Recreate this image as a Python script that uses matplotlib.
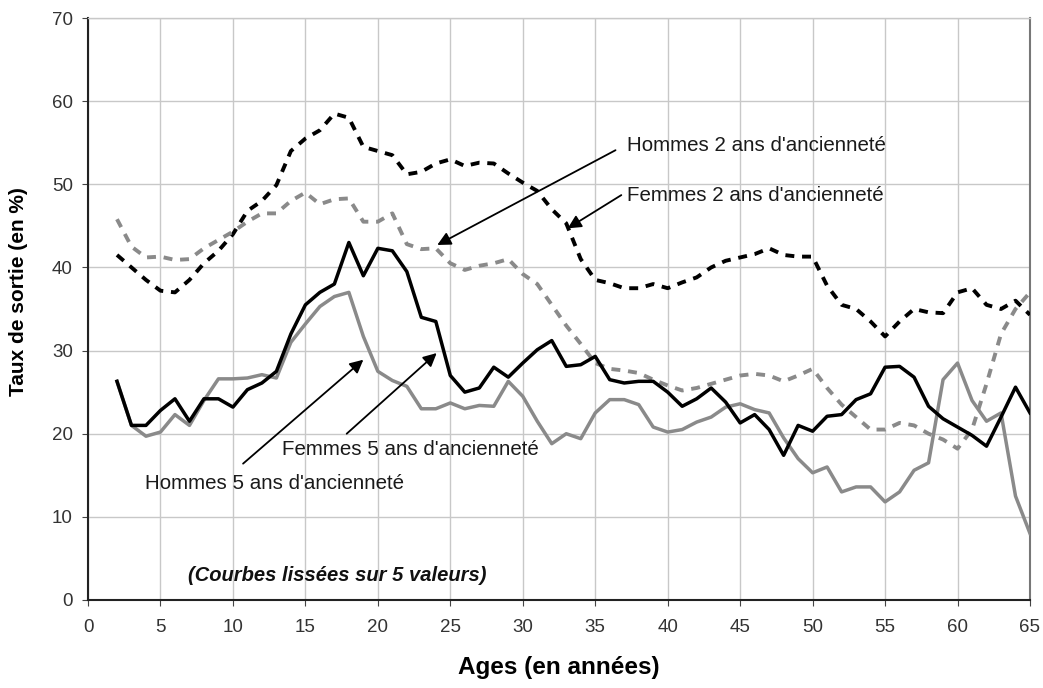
import matplotlib
matplotlib.use("Agg")
import matplotlib.pyplot as plt

ages = list(range(2, 66))

hommes_2ans = [41.5, 40, 38.5, 37.2, 37, 38.5, 40.5, 42, 44, 46.8,
               48, 49.9, 54, 55.5, 56.5, 58.5, 58, 54.5, 54, 53.5,
               51.2, 51.5, 52.5, 53, 52.2, 52.6, 52.5, 51.3, 50.2, 49.2,
               47, 45.3, 41, 38.5, 38.1, 37.5, 37.5, 38, 37.5, 38.2,
               38.8, 40, 40.8, 41.2, 41.6, 42.3, 41.5, 41.3, 41.3, 37.8,
               35.5, 35, 33.5, 31.7, 33.5, 35, 34.6, 34.5, 37, 37.5,
               35.5, 35, 36, 34.3]

femmes_2ans = [45.8, 42.5, 41.2, 41.3, 40.9, 41, 42.3, 43.3, 44.3, 45.5,
               46.5, 46.5, 48, 49, 47.6, 48.2, 48.3, 45.5, 45.5, 46.5,
               42.8, 42.2, 42.3, 40.5, 39.7, 40.2, 40.5, 41, 39.2, 38,
               35.5, 33, 30.8, 28.5, 27.8, 27.6, 27.3, 26.5, 25.8, 25.2,
               25.5, 26, 26.5, 27, 27.2, 27, 26.3, 27, 27.8, 25.5,
               23.5, 22, 20.5, 20.5, 21.3, 21, 20, 19.3, 18.2, 20.5,
               26, 32, 35, 37]

hommes_5ans = [26.3, 21, 21, 22.8, 24.2, 21.5, 24.2, 24.2, 23.2, 25.3,
               26.1, 27.5, 32, 35.5, 37, 38, 43, 39, 42.3, 42,
               39.5, 34, 33.5, 27, 25, 25.5, 28, 26.8, 28.5, 30.1,
               31.2, 28.1, 28.3, 29.3, 26.5, 26.1, 26.3, 26.3, 25, 23.3,
               24.2, 25.5, 23.8, 21.3, 22.3, 20.5, 17.4, 21, 20.3, 22.1,
               22.3, 24.1, 24.8, 28, 28.1, 26.8, 23.3, 21.8, 20.8, 19.8,
               18.5, 22, 25.6, 22.5]

femmes_5ans = [26.3, 21, 19.7, 20.2, 22.3, 21, 24, 26.6, 26.6, 26.7,
               27.1, 26.7, 31, 33.2, 35.3, 36.5, 37, 31.7, 27.5, 26.4,
               25.7, 23, 23, 23.7, 23, 23.4, 23.3, 26.3, 24.5, 21.5,
               18.8, 20, 19.4, 22.5, 24.1, 24.1, 23.5, 20.8, 20.2, 20.5,
               21.4, 22, 23.2, 23.6, 22.9, 22.5, 19.5, 17, 15.3, 16,
               13, 13.6, 13.6, 11.8, 13, 15.6, 16.5, 26.5, 28.5, 24,
               21.5, 22.5, 12.5, 8]

x_ticks = list(range(0, 70, 5))
y_ticks = list(range(0, 80, 10))

FONT = ["Liberation Sans", "DejaVu Sans"]
plt.rcParams['font.family'] = FONT

fig = plt.figure(figsize=(10.43, 6.88), dpi=100)
ax = fig.add_axes([88/1043, 88/688, (1030-88)/1043, (600-18)/688])

BLACK = "#000000"
GREY = "#8a8a8a"

ax.plot(ages, hommes_2ans, color=BLACK, lw=2.8, linestyle=(0, (2.3, 2.0)), zorder=3)
ax.plot(ages, femmes_2ans, color=GREY, lw=2.8, linestyle=(0, (2.3, 2.0)), zorder=3)
ax.plot(ages, hommes_5ans, color=BLACK, lw=2.5, zorder=4, solid_joinstyle='round')
ax.plot(ages, femmes_5ans, color=GREY, lw=2.5, zorder=3, solid_joinstyle='round')

ax.set_xlim(0, 65)
ax.set_ylim(0, 70)
ax.set_xticks(x_ticks)
ax.set_yticks(y_ticks)
ax.grid(True, color="#c8c8c8", lw=1.0)
ax.set_axisbelow(True)
ax.tick_params(axis='both', labelsize=13.5, labelcolor="#333333", color="#444444",
               length=4, direction='out', pad=7)
ax.tick_params(axis='x', pad=10)

for side in ['left', 'bottom']:
    ax.spines[side].set_color('#222222')
    ax.spines[side].set_linewidth(1.5)
ax.spines['right'].set_color('#777777')
ax.spines['right'].set_linewidth(1.5)
ax.spines['top'].set_color('#c8c8c8')
ax.spines['top'].set_linewidth(1.0)

ax.set_xlabel("Ages (en années)", fontsize=17.5, fontweight='bold', labelpad=14)
ax.set_ylabel("Taux de sortie (en %)", fontsize=15, fontweight='bold')
ax.yaxis.set_label_coords(-0.064, 0.53)

txt = dict(fontsize=14.8, color="#1a1a1a", va='center', ha='left')
arr = dict(arrowstyle='-|>', color='black', lw=1.3, mutation_scale=20, shrinkA=0, shrinkB=0)

ax.text(37.2, 54.7, "Hommes 2 ans d'ancienneté", **txt)
ax.annotate("", xy=(24.1, 42.7), xytext=(36.4, 54.1), arrowprops=arr)
ax.text(37.2, 48.6, "Femmes 2 ans d'ancienneté", **txt)
ax.annotate("", xy=(33.1, 44.7), xytext=(36.8, 48.7), arrowprops=arr)
ax.text(13.4, 18.1, "Femmes 5 ans d'ancienneté", **txt)
ax.annotate("", xy=(24.06, 29.7), xytext=(17.85, 20.0), arrowprops=arr)
ax.text(3.9, 14.0, "Hommes 5 ans d'ancienneté", **txt)
ax.annotate("", xy=(19.0, 28.9), xytext=(10.7, 16.4), arrowprops=arr)

ax.text(6.9, 3.0, "(Courbes lissées sur 5 valeurs)", fontsize=14.5, fontweight='bold',
        fontstyle='italic', va='center', ha='left', color="#111111")

fig.savefig("out.png", dpi=100)
